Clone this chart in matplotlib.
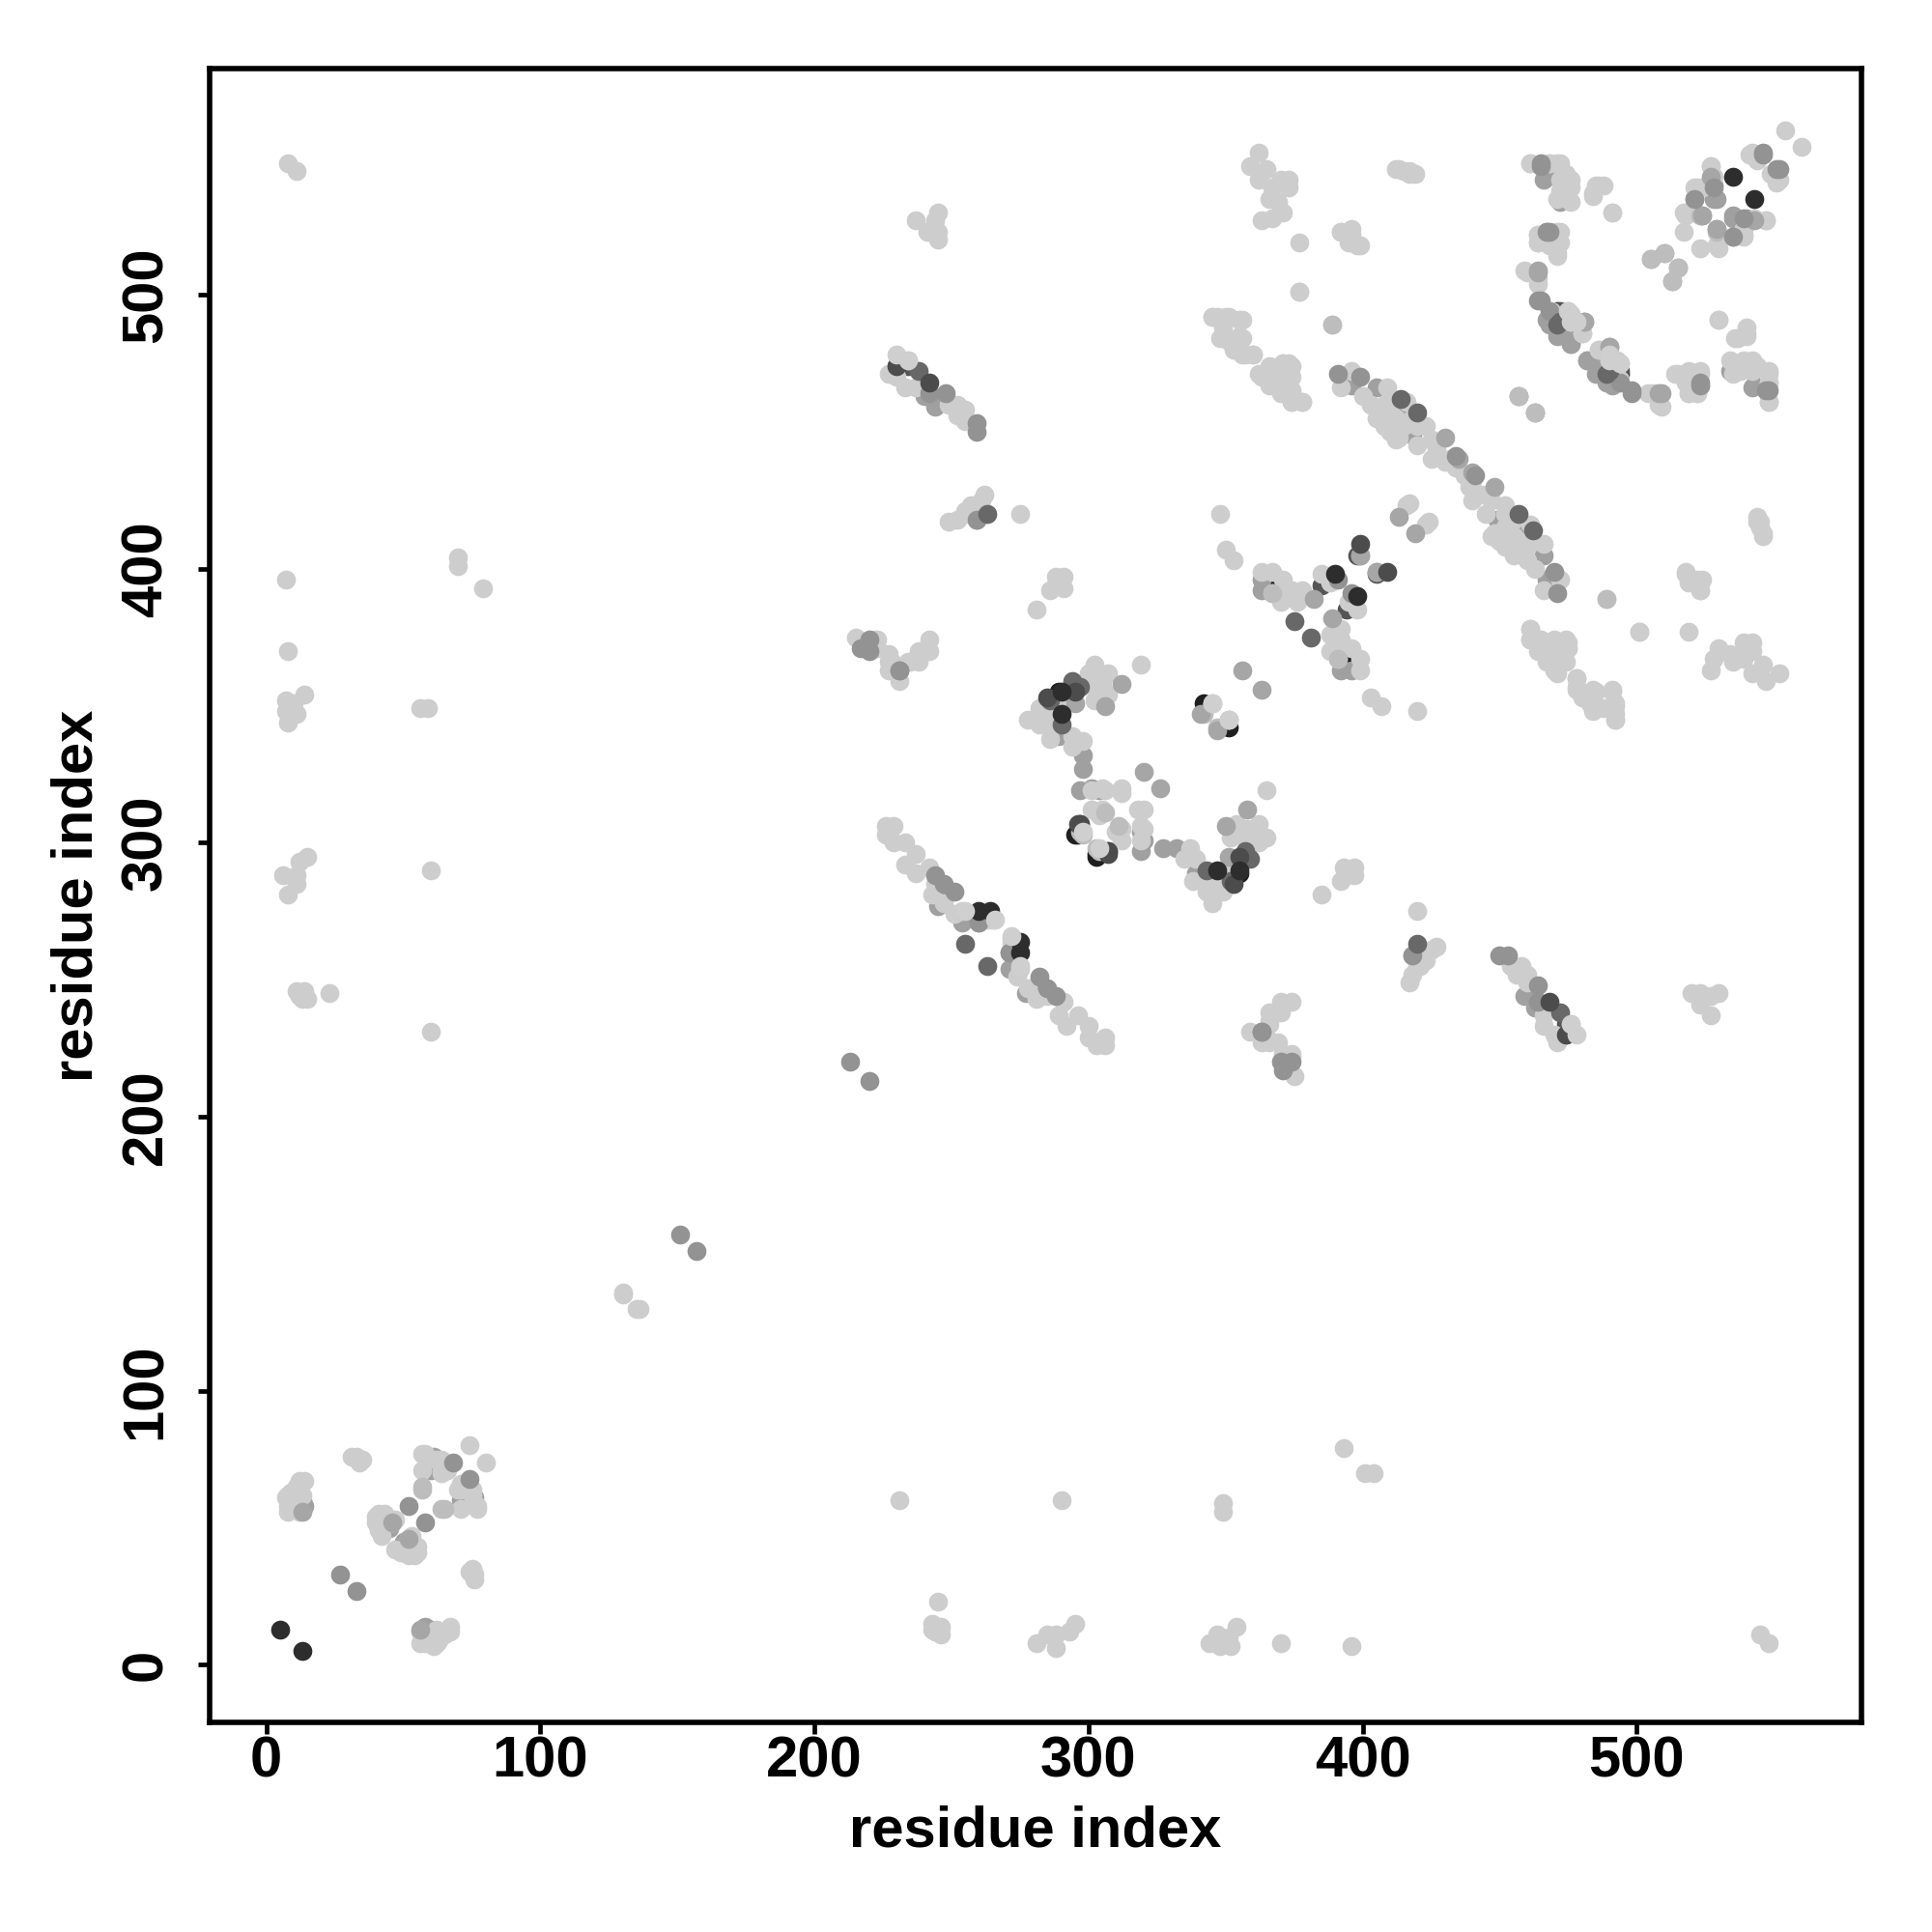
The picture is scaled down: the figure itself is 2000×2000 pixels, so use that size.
import numpy as np
import matplotlib
matplotlib.use('Agg')
import matplotlib.pyplot as plt

# contact map: pairs (i, j) with i < j, the map is symmetric
# drawn back to front

under_black = [(365, 395), (342, 351), (295, 303), (303, 296), (289, 355), (471, 494)]
under_dark = [(297, 307), (474, 234), (474, 230), (285, 352), (385, 394), (398, 405), (472, 494)]
under_mid = [
    (13, 58), (13, 60), (58, 11), (363, 396), (363, 392), (366, 470), (457, 463), (459, 244),
    (463, 240), (418, 259), (505, 513), (510, 515), (58, 14), (45, 50), (60, 71), (61, 76),
    (281, 345), (248, 281), (289, 339), (298, 332), (298, 327), (245, 277), (254, 271),
    (260, 271), (301, 320), (297, 319), (304, 319), (415, 456), (418, 449), (396, 467),
    (405, 466), (466, 542), (472, 534), (468, 489), (476, 482), (472, 486), (485, 471),
    (486, 475), (491, 467), (482, 476), (528, 540), (523, 467), (543, 467), (521, 535),
    (529, 535), (529, 524), (535, 528),
]
light = [
    (8, 56), (8, 58), (8, 60), (8, 62), (9, 63), (11, 58), (12, 56), (11, 65), (12, 67), (14, 67),
    (13, 62), (10, 60), (7, 61), (10, 57), (31, 76), (33, 76), (35, 75), (34, 74), (74, 80),
    (57, 77), (58, 77), (57, 71), (62, 75), (65, 73), (64, 71), (66, 71), (64, 75), (64, 70),
    (66, 72), (65, 74), (40, 52), (40, 54), (41, 50), (42, 47), (43, 55), (41, 55), (44, 53),
    (47, 53), (41, 49), (46, 52), (8, 281), (6, 288), (11, 288), (12, 293), (15, 295), (11, 285),
    (8, 344), (7, 348), (9, 350), (11, 347), (10, 351), (14, 354), (7, 352), (8, 370), (7, 396),
    (12, 244), (14, 246), (13, 243), (11, 246), (15, 243), (23, 245), (8, 548), (11, 545),
    (60, 290), (60, 231), (56, 349), (59, 349), (70, 404), (70, 401), (79, 393), (130, 136),
    (130, 135),
    # long band around 265
    (226, 306), (229, 306), (226, 303), (229, 300), (233, 300), (237, 296), (233, 292), (237, 289),
    (242, 291), (243, 281), (244, 285), (247, 278), (251, 274), (254, 275), (263, 272), (272, 265),
    # small groups around 220-240 / 370
    (215, 375), (223, 374), (223, 371), (227, 369), (227, 366), (227, 363), (231, 359), (235, 366),
    (238, 366), (238, 370), (242, 370), (242, 374), (234, 366), (228, 366), (222, 374),
    # hook at 280-320 / 320-365
    (278, 345), (282, 349), (282, 343), (285, 347), (286, 342), (286, 338), (289, 351), (294, 339),
    (298, 337), (294, 335), (302, 365), (300, 362), (304, 361), (307, 362), (304, 356), (307, 354),
    (300, 358), (302, 352), (305, 358), (319, 365), (301, 319), (306, 319), (312, 318), (312, 320),
    (301, 312), (305, 312), (304, 310), (305, 320),
    (345, 351), (348, 420), (350, 407), (353, 403),
    (281, 385), (291, 393), (291, 397), (286, 392), (288, 394), (288, 397),
    # 420 / 250-275
    (275, 420), (261, 425), (262, 427), (257, 423), (255, 421), (252, 418), (249, 417), (255, 420),
    # 450-480 / 230-258
    (255, 454), (255, 458), (252, 460), (252, 456), (249, 460), (237, 466), (233, 466), (230, 470),
    (234, 476), (227, 471),
    (245, 520), (245, 523), (244, 527), (241, 523), (237, 527), (245, 530),
    # 360-375 / 527-552
    (362, 552), (359, 547), (365, 546), (362, 542), (373, 542), (373, 539), (367, 539), (369, 534),
    (371, 530), (363, 527), (367, 528), (366, 535), (370, 542), (413, 546), (415, 545), (417, 545),
    (419, 544), (392, 523), (396, 524), (395, 519), (399, 518), (377, 519), (377, 501),
    # 345-378 / 460-492
    (345, 492), (350, 492), (355, 491), (348, 484), (355, 485), (353, 480), (357, 478), (360, 478),
    (363, 470), (366, 473), (371, 475), (374, 474), (370, 466), (374, 465), (374, 461), (378, 461),
    (371, 471), (374, 470),
    # long band to 436
    (396, 472), (392, 466), (400, 463), (409, 466), (416, 461), (407, 457), (408, 452), (413, 448),
    (423, 452), (425, 447), (430, 439), (410, 460), (412, 455), (420, 452), (427, 444), (434, 437),
    (417, 424), (416, 423), (408, 460), (405, 455), (410, 450), (415, 452), (418, 455), (403, 460),
    (412, 447), (420, 445), (425, 440), (432, 440),
    # 363-400 / 365-400
    (363, 399), (367, 399), (371, 396), (371, 391), (374, 392), (378, 392), (385, 398), (388, 395),
    (367, 391), (370, 388), (376, 388),
    (378, 461), (374, 461), (370, 464), (373, 467), (373, 472), (373, 475), (366, 467), (362, 471),
    (371, 475), (366, 474), (360, 478), (356, 478), (356, 484), (356, 491), (351, 483), (349, 488),
    (351, 492), (345, 492), (347, 492), (377, 501), (389, 489),
    # 460-495 / 505-550
    (461, 548), (468, 548), (472, 548), (472, 542), (476, 542), (476, 539), (476, 534), (472, 538),
    (484, 537), (485, 540), (488, 540), (491, 530), (464, 522), (472, 523), (464, 519), (468, 518),
    (472, 519), (471, 514), (460, 508), (464, 504), (476, 493), (480, 486), (476, 490), (486, 480),
    (494, 475), (494, 469), (506, 464), (509, 459), (515, 471), (521, 471), (523, 471), (519, 464),
    (522, 464), (535, 475), (540, 475), (544, 474), (535, 471), (548, 471), (548, 461), (548, 468),
    (540, 486), (536, 484), (530, 491), (518, 398), (522, 396), (523, 392), (544, 417), (546, 412),
    # close to the diagonal at the far end
    (517, 523), (518, 529), (522, 539), (524, 539), (527, 547), (530, 517), (539, 524), (539, 521),
    (541, 551), (549, 544), (552, 542), (554, 560), (543, 528), (547, 527),
]
top_pale = [
    (57, 64), (65, 57), (523, 529), (510, 515), (505, 513), (457, 463), (463, 457), (389, 489),
    (367, 391), (342, 347), (306, 311), (298, 303), (304, 297),
]
top_mid = [
    (46, 52), (13, 56), (312, 358), (356, 363), (320, 326), (413, 419), (464, 508), (481, 490),
    (490, 481), (527, 543), (529, 524), (509, 464), (382, 389), (399, 405), (405, 399), (306, 350),
    (341, 347), (295, 351), (430, 448), (440, 435),
]
top_gray = [
    (27, 33), (52, 58), (68, 74), (151, 157), (213, 220), (217, 371), (220, 370), (220, 374),
    (231, 363), (244, 288), (247, 285), (251, 282), (260, 271), (259, 450), (259, 453), (248, 464),
    (242, 464), (396, 391), (391, 471), (399, 470), (465, 547), (468, 523), (465, 498), (468, 494),
    (498, 464), (523, 467), (548, 465), (535, 521), (539, 528), (546, 551), (552, 546), (434, 441),
    (363, 231), (418, 259),
]
top_dark = [
    (255, 263), (263, 420), (414, 462), (420, 457), (290, 343), (294, 359), (375, 381), (472, 490),
    (489, 471), (472, 238), (286, 352), (297, 357),
]
top_vdark = [
    (295, 355), (297, 307), (307, 296), (468, 242), (399, 409), (353, 285), (474, 230),
]
top_black = [
    (5, 13), (290, 355), (290, 347), (260, 275), (264, 275), (390, 398), (535, 543),
]
top_light = [
    (266, 272), (255, 275), (476, 234), (478, 230), (345, 351), (351, 345), (298, 304), (478, 490),
    (475, 494), (476, 490),
]

series = [
    (under_black, '#1f1f1f'),
    (under_dark, '#555555'),
    (under_mid, '#a0a0a0'),
    (light, '#cdcdcd'),
    (top_pale, '#bdbdbd'),
    (top_mid, '#a6a6a6'),
    (top_gray, '#939393'),
    (top_dark, '#686868'),
    (top_vdark, '#4c4c4c'),
    (top_black, '#2d2d2d'),
    (top_light, '#cfcfcf'),
]

plt.rcParams['font.family'] = ['Liberation Sans', 'DejaVu Sans']
plt.rcParams['font.weight'] = 'bold'

fig = plt.figure(figsize=(10, 10), dpi=200)
ax = fig.add_axes([217 / 2000, 217 / 2000, 1710 / 2000, 1712 / 2000])

for pairs, shade in series:
    pts = np.array(pairs)
    ax.scatter(pts[:, 0], pts[:, 1], s=50, color=shade, linewidths=0, clip_on=True)
    ax.scatter(pts[:, 1], pts[:, 0], s=50, color=shade, linewidths=0, clip_on=True)

ax.set_xlim(-20.7, 582)
ax.set_ylim(-21, 582.5)
ax.set_xticks([0, 100, 200, 300, 400, 500])
ax.set_yticks([0, 100, 200, 300, 400, 500])
ax.tick_params(axis='both', length=4.3, width=1.7, labelsize=21.5)
ax.tick_params(axis='x', pad=0.5)
ax.tick_params(axis='y', pad=9.3)
for lab in ax.get_yticklabels():
    lab.set_rotation(90)
    lab.set_va('center')
for side in ax.spines.values():
    side.set_linewidth(2)

ax.set_xlabel('residue index', fontsize=21.5, fontweight='bold', labelpad=6)
ax.set_ylabel('residue index', fontsize=21.5, fontweight='bold', labelpad=6)

fig.savefig('out.png', dpi=200)
